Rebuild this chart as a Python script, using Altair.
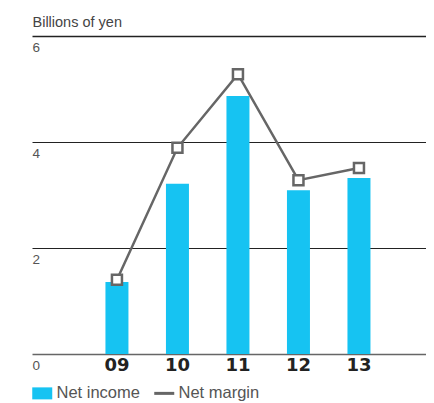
import altair as alt
import pandas as pd

years = ["09", "10", "11", "12", "13"]
net_income = [1.36, 3.21, 4.87, 3.09, 3.32]
net_margin = [1.40, 3.89, 5.28, 3.28, 3.51]  # plotted on the same visual scale
series_names = ["Net income", "Net margin"]
y_ticks = [0, 2, 4, 6]

CYAN = "#16C3F2"
GRAY = "#666666"
FONT = "Liberation Sans"

bars_df = pd.DataFrame({"year": years, "value": net_income, "series": series_names[0]})
line_df = pd.DataFrame({"year": years, "value": net_margin, "series": series_names[1]})

x_scale = alt.Scale(paddingInner=0.488, paddingOuter=1, align=0.574)
x_enc = alt.X(
    "year:N",
    sort=years,
    scale=x_scale,
    axis=alt.Axis(
        title=None, labelAngle=0, ticks=False, domain=False,
        labelFont="DejaVu Sans", labelFontWeight="bold",
        labelFontSize=18, labelColor="#222222", labelPadding=2, grid=False,
    ),
)
y_scale = alt.Scale(domain=[0, 6], nice=False)
y_axis = alt.Axis(
    values=y_ticks, title="Billions of yen", titleAngle=0, titleAlign="left",
    titleBaseline="alphabetic", titleX=0, titleY=-10, titleFont=FONT,
    titleFontSize=14.5, titleFontWeight="normal", titleColor="#444444",
    labelAlign="left", labelBaseline="top", labelPadding=0, labelOffset=4,
    labelFont=FONT, labelFontSize=13.5, labelColor="#555555", ticks=False,
    domain=False, grid=True,
    gridColor={"expr": "datum.value == 0 ? '#666666' : '#222222'"},
    gridWidth={"expr": "datum.value == 0 ? 1.5 : (datum.value == 6 ? 1.4 : 1)"},
    gridOpacity=1,
)

bars = alt.Chart(bars_df).mark_bar(size=23).encode(
    x=x_enc,
    y=alt.Y("value:Q", scale=y_scale, axis=y_axis),
    color=alt.Color(
        "series:N",
        scale=alt.Scale(domain=series_names, range=[CYAN, GRAY]),
        legend=alt.Legend(
            title=None, orient="none", legendX=2, legendY=349,
            direction="horizontal", labelFont=FONT, labelFontSize=16.5,
            labelColor="#555555", symbolSize=400, labelOffset=6,
            columnPadding=8, symbolOpacity=1,
            symbolType={"expr": "datum.value == 'Net income' ? 'M-1,-0.6H1V0.6H-1Z' : 'stroke'"},
            symbolStrokeColor=GRAY,
            symbolStrokeWidth={"expr": "datum.value == 'Net income' ? 0 : 3"},
        ),
    ),
)

line = alt.Chart(line_df).mark_line(color=GRAY, strokeWidth=2.5).encode(
    x=alt.X("year:N", sort=years, scale=x_scale),
    y=alt.Y("value:Q", scale=y_scale),
)
points = alt.Chart(line_df).mark_point(
    shape="square", size=100, filled=True, fill="white", stroke=GRAY,
    strokeWidth=2.5, opacity=1,
).encode(
    x=alt.X("year:N", sort=years, scale=x_scale),
    y=alt.Y("value:Q", scale=y_scale),
)

chart = alt.layer(bars, line, points).properties(
    width=394, height=318, background="white",
    autosize=alt.AutoSizeParams(type="none"),
    padding={"left": 24, "top": 28, "right": 0, "bottom": 48},
).configure_view(stroke=None)

chart.save("out.html", embed_options={"renderer": "svg", "actions": False})
